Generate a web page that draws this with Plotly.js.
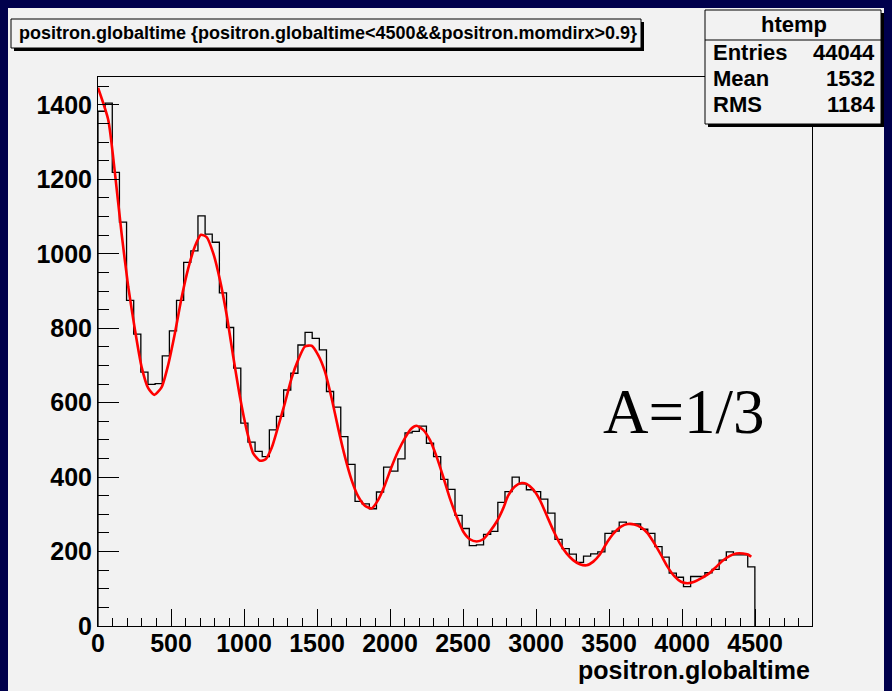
<!DOCTYPE html>
<html>
<head>
<meta charset="utf-8">
<script src="https://cdn.plot.ly/plotly-3.0.1.min.js"></script>
<style>html,body{margin:0;padding:0;background:#f2f2f2;}#chart{width:892px;height:691px;}</style>
</head>
<body>
<div id="chart"></div>
<script>
// ---- data ----
const binWidth = 48.9;
const histValues = [1383,1405,1219,1085,875,784,682,649,651,726,793,875,977,1008,1102,1053,1031,895,802,693,
  545,494,469,455,527,563,634,679,755,789,773,742,630,588,509,434,335,328,315,360,
  427,416,449,519,523,537,491,455,394,367,297,262,216,218,246,254,332,361,400,382,
  366,361,341,303,233,208,193,171,188,194,199,249,255,279,274,274,260,249,213,185,
  142,131,106,133,133,143,152,177,199,191,191,159];
const fitX = [0,70,116,161,207,253,298,344,385,435,481,527,572,618,664,705,744,789,835,881,
  926,972,1018,1063,1109,1148,1189,1234,1280,1326,1371,1417,1463,1508,1554,1600,1645,1691,1737,1782,
  1828,1874,1919,1965,2011,2056,2102,2145,2181,2227,2273,2319,2364,2410,2456,2501,2547,2593,2638,2684,
  2730,2775,2809,2855,2901,2935,2980,3026,3072,3117,3163,3209,3254,3300,3346,3392,3437,3490,3536,3582,
  3628,3673,3719,3765,3810,3856,3901,3947,3993,4038,4084,4130,4188,4234,4280,4325,4371,4417,4451,4474];
const fitY = [1446,1360,1217,1056,912,796,697,639,621,641,702,787,881,961,1020,1051,1045,1002,930,836,
  724,616,527,464,444,448,478,536,599,666,715,751,753,728,684,612,531,455,392,348,
  323,316,339,379,428,470,505,530,538,527,500,455,401,343,294,254,233,227,233,254,
  280,316,350,375,384,382,367,339,298,258,222,195,177,166,163,173,192,227,251,267,
  274,273,265,249,222,191,159,134,119,115,119,128,142,159,176,188,195,195,192,186];
const xTitle = "positron.globaltime";
const plotTitle = "positron.globaltime {positron.globaltime<4500&&positron.momdirx>0.9}";
const statsName = "htemp";
const statsLabels = ["Entries", "Mean", "RMS"];
const statsValues = ["44044", "1532", "1184"];
const noteText = "A=1/3";

// ---- histogram steps ----
const hx = [0], hy = [0];
histValues.forEach((v, i) => { hx.push(i * binWidth); hy.push(v); });
hx.push(histValues.length * binWidth); hy.push(0);

// ---- pixel helpers for decorations ----
const W = 892, H = 691, L = 98, R = 80, T = 77, B = 65;
const pw = W - L - R, ph = H - T - B;
const px = x => (x - L) / pw;
const py = y => (H - B - y) / ph;

const FONT = "'Liberation Sans', Arial, Helvetica, sans-serif";
const GRAY = '#f2f2f2', NAVY = '#00004c';

function rect(x0, y0, x1, y1, fill, line, layer) {
  return {type:'rect', xref:'paper', yref:'paper', x0:px(x0), x1:px(x1), y0:py(y1), y1:py(y0),
    fillcolor: fill, line: line ? {color:'black', width:1} : {width:0}, layer: layer || 'above'};
}

const shapes = [
  rect(0, 0, 892, 8, NAVY, false, 'below'),
  rect(0, 0, 8, 691, NAVY, false, 'below'),
  rect(884, 0, 892, 691, NAVY, false, 'below'),
  rect(14, 22, 644, 51, 'black', false),
  rect(11, 19, 641, 48, GRAY, true),
  rect(708, 13, 884, 127, 'black', false),
  rect(705, 10, 881, 124, GRAY, true),
  {type:'line', xref:'paper', yref:'paper', x0:px(705), x1:px(881), y0:py(40), y1:py(40), line:{color:'black', width:1}}
];

const ann = (text, x, y, xanchor, size, extra) => Object.assign({
  text, xref:'paper', yref:'paper', x:px(x), y:py(y), xanchor, yanchor:'middle', showarrow:false,
  font:{family:FONT, size, color:'black', weight:'bold'}
}, extra || {});

const annotations = [
  ann(plotTitle, 17, 33, 'left', 18),
  ann(statsName, 794, 25, 'center', 22),
  ann(xTitle, 812, 670, 'right', 25),
  {text: noteText, xref:'paper', yref:'paper', x:px(684), y:py(412), xanchor:'center', yanchor:'middle',
   showarrow:false, font:{family:"'Liberation Serif', 'Times New Roman', serif", size:63, color:'black'}}
];
statsLabels.forEach((lab, i) => {
  const yy = 52 + i * 26.5;
  annotations.push(ann(lab, 711, yy, 'left', 22));
  annotations.push(ann(statsValues[i], 877, yy, 'right', 22));
});

const traces = [
  {x: hx, y: hy, type:'scatter', mode:'lines', line:{shape:'hv', color:'black', width:1.3}, hoverinfo:'skip'},
  {x: fitX, y: fitY, type:'scatter', mode:'lines', line:{shape:'spline', smoothing:0.6, color:'#ff0000', width:2.6}, hoverinfo:'skip'}
];

const layout = {
  width: W, height: H,
  margin: {l:L, r:R, t:T, b:B, pad:0},
  paper_bgcolor: GRAY, plot_bgcolor: GRAY,
  showlegend: false,
  xaxis: {
    range:[0, 4890], tick0:0, dtick:500, tickangle:0, ticks:'inside', ticklen:17, tickwidth:1, tickcolor:'black',
    ticklabelstandoff:-5,
    showline:true, linecolor:'black', linewidth:1, mirror:true, showgrid:false, zeroline:false,
    tickfont:{family:FONT, size:25, color:'black', weight:'bold'},
    minor:{dtick:100, ticks:'inside', ticklen:8, tickwidth:1, tickcolor:'black', showgrid:false}
  },
  yaxis: {
    range:[0, 1475], tick0:0, dtick:200, ticks:'inside', ticklen:21, tickwidth:1, tickcolor:'black',
    showline:true, linecolor:'black', linewidth:1, mirror:true, showgrid:false, zeroline:false,
    tickfont:{family:FONT, size:25, color:'black', weight:'bold'},
    minor:{dtick:50, ticks:'inside', ticklen:11, tickwidth:1, tickcolor:'black', showgrid:false}
  },
  shapes, annotations
};

Plotly.newPlot('chart', traces, layout, {staticPlot:true, displayModeBar:false});
</script>
</body>
</html>
